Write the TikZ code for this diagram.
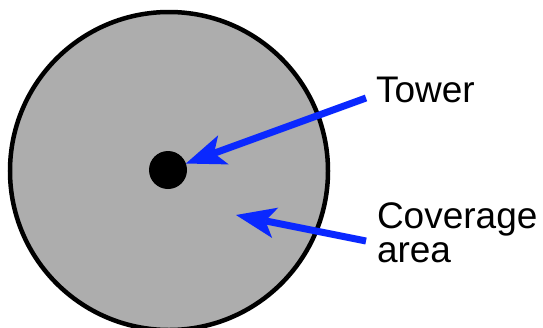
\documentclass[tikz,border=0pt]{standalone}
\usepackage{fontspec}
\setmainfont{Liberation Sans}
\usetikzlibrary{arrows.meta}
\definecolor{areagray}{RGB}{173,173,173}
\definecolor{arrowblue}{RGB}{10,40,255}
\begin{document}
\begin{tikzpicture}[x=1pt,y=-1pt,
  label/.style={inner sep=0pt,outer sep=0pt,font=\fontsize{37}{34}\selectfont,align=left},
  pointer/.style={draw=arrowblue,line width=7pt,
    -{Stealth[length=40pt,width=31pt,inset=10pt,line width=0pt]}}]
\useasboundingbox (0,0) rectangle (543,327);
\node[circle,draw=black,line width=4.5pt,fill=areagray,minimum size=318pt,inner sep=0pt] (area) at (169,171) {};
\node[circle,fill=black,minimum size=38pt,inner sep=0pt,outer sep=0pt] (tower) at (168,170) {};
\node[label,anchor=base west] (towerlabel) at (376,102) {Tower};
\node[label,anchor=base west] (arealabel) at (377,262) {Coverage\\area};
\coordinate (towertail) at (366,98);
\coordinate (areatail) at (366,241);
\coordinate (areatip) at (236,215);
\draw[pointer] (towertail) -- (tower);
\draw[pointer] (areatail) -- (areatip);
\end{tikzpicture}
\end{document}
